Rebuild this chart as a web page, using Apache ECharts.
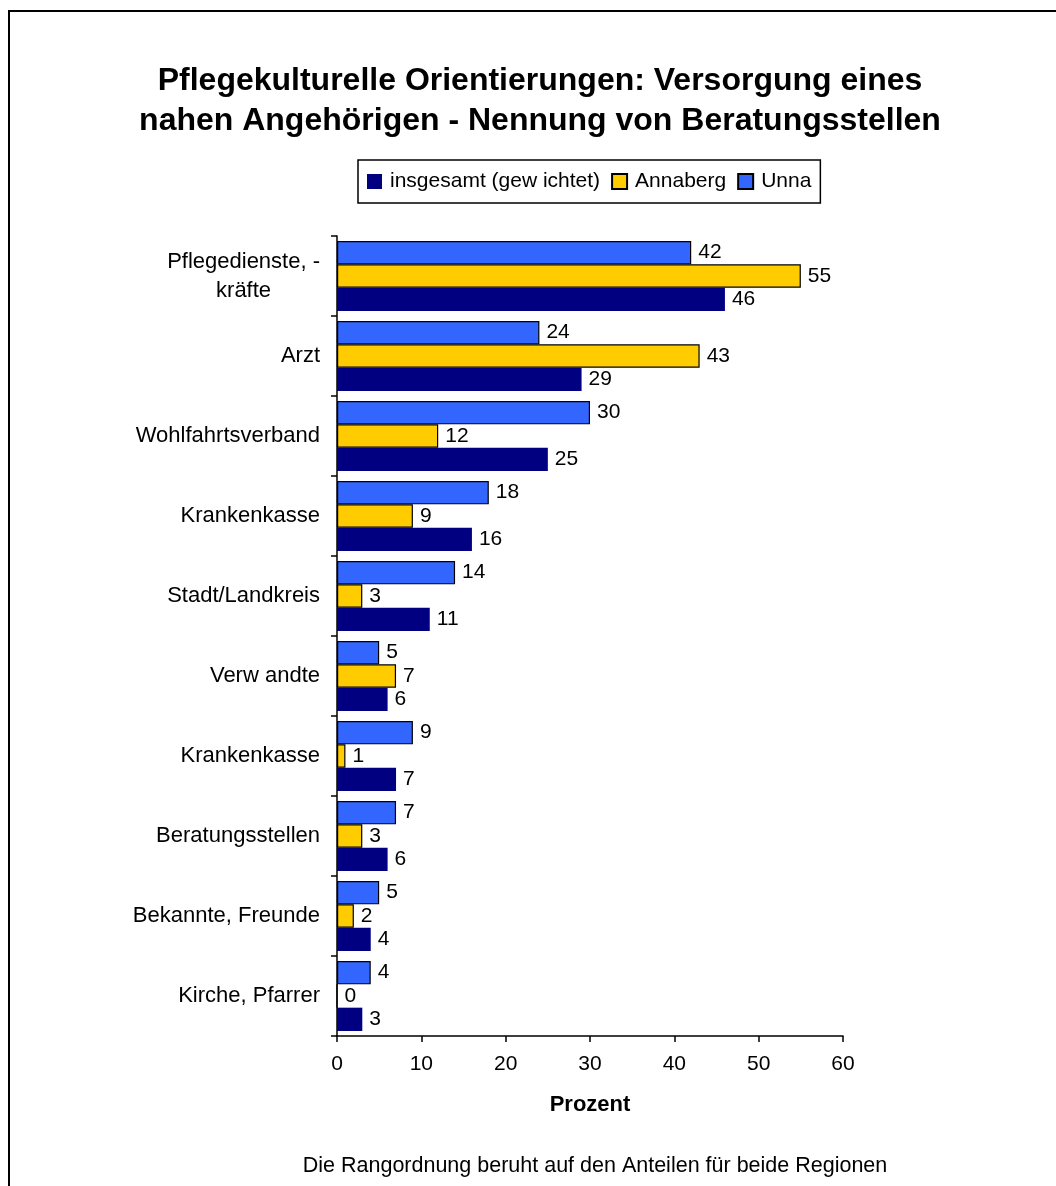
<!DOCTYPE html>
<html>
<head>
<meta charset="utf-8">
<script src="https://cdn.jsdelivr.net/npm/echarts@6/dist/echarts.min.js"></script>
<style>
  html, body { margin: 0; padding: 0; background: #fff; }
  #chart { width: 1056px; height: 1186px; }
</style>
</head>
<body>
<div id="chart"></div>
<script>
// Kategorien von oben nach unten
const categories = [
  "Pflegedienste, -\nkräfte",
  "Arzt",
  "Wohlfahrtsverband",
  "Krankenkasse",
  "Stadt/Landkreis",
  "Verw andte",
  "Krankenkasse",
  "Beratungsstellen",
  "Bekannte, Freunde",
  "Kirche, Pfarrer"
];
const unna = [42, 24, 30, 18, 14, 5, 9, 7, 5, 4];
const annaberg = [55, 43, 12, 9, 3, 7, 1, 3, 2, 0];
const insgesamt = [46, 29, 25, 16, 11, 6, 7, 6, 4, 3];
const xTicks = [0, 10, 20, 30, 40, 50, 60];

const font = "Liberation Sans, Arial, sans-serif";
const chart = echarts.init(document.getElementById("chart"));

function barSeries(name, data, color, withBorder) {
  return {
    name: name,
    type: "bar",
    data: data,
    barGap: "0%",
    barCategoryGap: "12.5%",
    itemStyle: {
      color: color,
      borderColor: withBorder ? "#000" : color,
      borderWidth: withBorder ? 1.2 : 0
    },
    label: {
      show: true,
      position: "right",
      distance: 7,
      color: "#000",
      fontSize: 21,
      fontFamily: font
    }
  };
}

const option = {
  animation: false,
  backgroundColor: "#fff",
  title: [
    {
      text: "Pflegekulturelle Orientierungen: Versorgung eines\nnahen Angehörigen - Nennung von Beratungsstellen",
      left: 535,
      textAlign: "center",
      top: 56,
      textStyle: {
        fontSize: 32,
        fontWeight: "bold",
        fontFamily: font,
        color: "#000",
        lineHeight: 40
      }
    },
    {
      text: "Die Rangordnung beruht auf den Anteilen für beide Regionen",
      left: 590,
      textAlign: "center",
      top: 1150,
      textStyle: {
        fontSize: 21.5,
        fontWeight: "normal",
        fontFamily: font,
        color: "#000"
      }
    }
  ],
  legend: {
    data: ["insgesamt (gew ichtet)", "Annaberg", "Unna"],
    left: 358,
    top: 160,
    padding: [11, 9, 11, 9],
    borderColor: "#000",
    borderWidth: 1.5,
    itemWidth: 15,
    itemHeight: 15,
    itemGap: 11,
    icon: "rect",
    textStyle: { fontSize: 21, fontFamily: font, color: "#000", padding: [0, 0, 0, 3] }
  },
  grid: {
    left: 337,
    right: 213,
    top: 236,
    bottom: 150,
    containLabel: false
  },
  xAxis: {
    type: "value",
    min: 0,
    max: 60,
    interval: 10,
    name: "Prozent",
    nameLocation: "middle",
    nameGap: 58,
    nameTextStyle: { fontSize: 22, fontWeight: "bold", fontFamily: font, color: "#000" },
    axisLine: { show: true, lineStyle: { color: "#000", width: 1.5 } },
    axisTick: { show: true, length: 6, lineStyle: { color: "#000", width: 1.5 } },
    splitLine: { show: false },
    axisLabel: {
      fontSize: 21,
      fontFamily: font,
      color: "#000",
      margin: 18,
      formatter: function (v) { return xTicks.indexOf(v) >= 0 ? String(v) : ""; }
    }
  },
  yAxis: {
    type: "category",
    inverse: true,
    data: categories,
    axisLine: { show: true, lineStyle: { color: "#000", width: 1.5 } },
    axisTick: { show: true, length: 6, lineStyle: { color: "#000", width: 1.5 } },
    axisLabel: {
      fontSize: 22,
      fontFamily: font,
      color: "#000",
      margin: 17,
      lineHeight: 29,
      formatter: function (v) { return "{c|" + v + "}"; },
      rich: {
        c: { align: "center", fontSize: 22, fontFamily: font, color: "#000", lineHeight: 29 }
      }
    }
  },
  series: [
    barSeries("Unna", unna, "#3366FF", true),
    barSeries("Annaberg", annaberg, "#FFCC00", true),
    barSeries("insgesamt (gew ichtet)", insgesamt, "#000080", false)
  ],
  graphic: [
    {
      type: "rect",
      shape: { x: 9, y: 11, width: 1100, height: 1300 },
      style: { fill: "none", stroke: "#000", lineWidth: 2 },
      silent: true
    }
  ]
};

chart.setOption(option);
</script>
</body>
</html>
